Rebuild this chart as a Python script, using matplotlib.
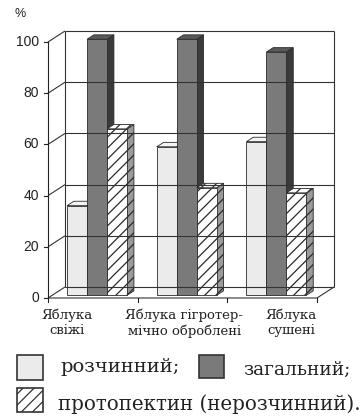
import matplotlib
matplotlib.use("Agg")
import matplotlib.pyplot as plt
from matplotlib.patches import Polygon, Rectangle

# Pectin content in apples, %
groups = ["Яблука\nсвіжі", "Яблука гігротер-\nмічно оброблені", "Яблука\nсушені"]
soluble = [35, 58, 60]        # розчинний
total = [100, 100, 95]        # загальний
protopectin = [65, 42, 40]    # протопектин (нерозчинний)
yticks = [0, 20, 40, 60, 80, 100]
legend_labels = ["розчинний;", "загальний;", "протопектин (нерозчинний)."]

plt.rcParams["hatch.linewidth"] = 0.9
W, H = 362, 416
fig = plt.figure(figsize=(W / 100, H / 100), dpi=100)
fig.patch.set_facecolor("white")

# front plane of the pseudo-3D box
ax = fig.add_axes([48 / W, 118 / H, 269 / W, 256 / H])
ax.set_xlim(0, len(groups))
ax.set_ylim(0, 100)
ax.axis("off")

DX, DY = 0.19, 4.3        # full-depth offset in data units
LINE = "#333333"
SERIF = "DejaVu Serif"


def p(x, y, d):
    return (x + DX * d, y + DY * d)


def line(pts, **kw):
    xs, ys = zip(*pts)
    ax.plot(xs, ys, color=kw.pop("color", LINE), lw=kw.pop("lw", 0.8),
            clip_on=False, solid_capstyle="butt", **kw)


n = len(groups)
# back wall grid + side wall diagonals
for v in yticks:
    line([p(0, v, 1), p(n, v, 1)])
    line([p(0, v, 0), p(0, v, 1)])
line([p(0, 0, 1), p(0, 100, 1)])
line([p(n, 0, 1), p(n, 100, 1)])
# floor
line([p(0, 0, 0), p(n, 0, 0), p(n, 0, 1)])
# value axis
line([p(0, 0, 0), p(0, 100, 0)], color="#222222")
for v in yticks:
    ax.plot([-0.045, 0], [v, v], color="#222222", lw=0.8, clip_on=False)
    ax.text(-0.1, v, str(v), ha="right", va="center", fontsize=10,
            family="Liberation Sans", color="#222222")
for i in range(n + 1):
    ax.plot([i, i], [0, -1.6], color="#222222", lw=0.8, clip_on=False)
ax.text(-0.31, 111, "%", ha="center", va="center", fontsize=9,
        family="Liberation Sans", color="#222222")

# bars
bw = 0.223
d0, d1 = 0.25, 0.65
series = [
    (soluble, dict(front="#ebebeb", side="#bdbdbd", top="#f4f4f4", hatch=None)),
    (total, dict(front="#7a7a7a", side="#3b3b3b", top="#5a5a5a", hatch=None)),
    (protopectin, dict(front="white", side="#9a9a9a", top="white", hatch="///")),
]
EDGE = "#2a2a2a"
for gi in range(n):
    x0 = gi + 0.5 - 1.5 * bw
    for si, (vals, st) in enumerate(series):
        v = vals[gi]
        xl = x0 + si * bw
        xr = xl + bw
        side = [p(xr, 0, d0), p(xr, 0, d1), p(xr, v, d1), p(xr, v, d0)]
        top = [p(xl, v, d0), p(xr, v, d0), p(xr, v, d1), p(xl, v, d1)]
        front = [p(xl, 0, d0), p(xr, 0, d0), p(xr, v, d0), p(xl, v, d0)]
        for pts, fc in ((side, st["side"]), (top, st["top"]), (front, st["front"])):
            ax.add_patch(Polygon(pts, closed=True, facecolor=fc, edgecolor=EDGE,
                                 lw=0.6, hatch=st["hatch"], clip_on=False,
                                 joinstyle="miter"))

# category labels
label_x = [0.21, 1.52, 2.71]
for lx, g in zip(label_x, groups):
    ax.text(lx, -4.2, g, ha="center", va="top", fontsize=9.5,
            family=SERIF, linespacing=1.2, color="#222222")

# legend
def fx(x):
    return x / W


def fy(y):
    return 1 - y / H


legend_boxes = [
    ((17, 355, 26, 25), dict(facecolor="#ebebeb", hatch=None)),
    ((199, 355, 25, 23), dict(facecolor="#7a7a7a", hatch=None)),
    ((17, 388, 26, 24), dict(facecolor="white", hatch="///")),
]
for (x, y, w, h), st in legend_boxes:
    fig.add_artist(Rectangle((fx(x), fy(y + h)), w / W, h / H,
                             transform=fig.transFigure, edgecolor="#333333",
                             lw=1.2, **st))
legend_pos = [(60, 372), (243, 375), (58, 410)]
legend_sizes = [14, 13.5, 14.3]
for (x, y), lab, fs in zip(legend_pos, legend_labels, legend_sizes):
    fig.text(fx(x), fy(y), lab, ha="left", va="baseline", fontsize=fs,
             family=SERIF, color="#222222")

fig.savefig("out.png", dpi=100, facecolor="white")
